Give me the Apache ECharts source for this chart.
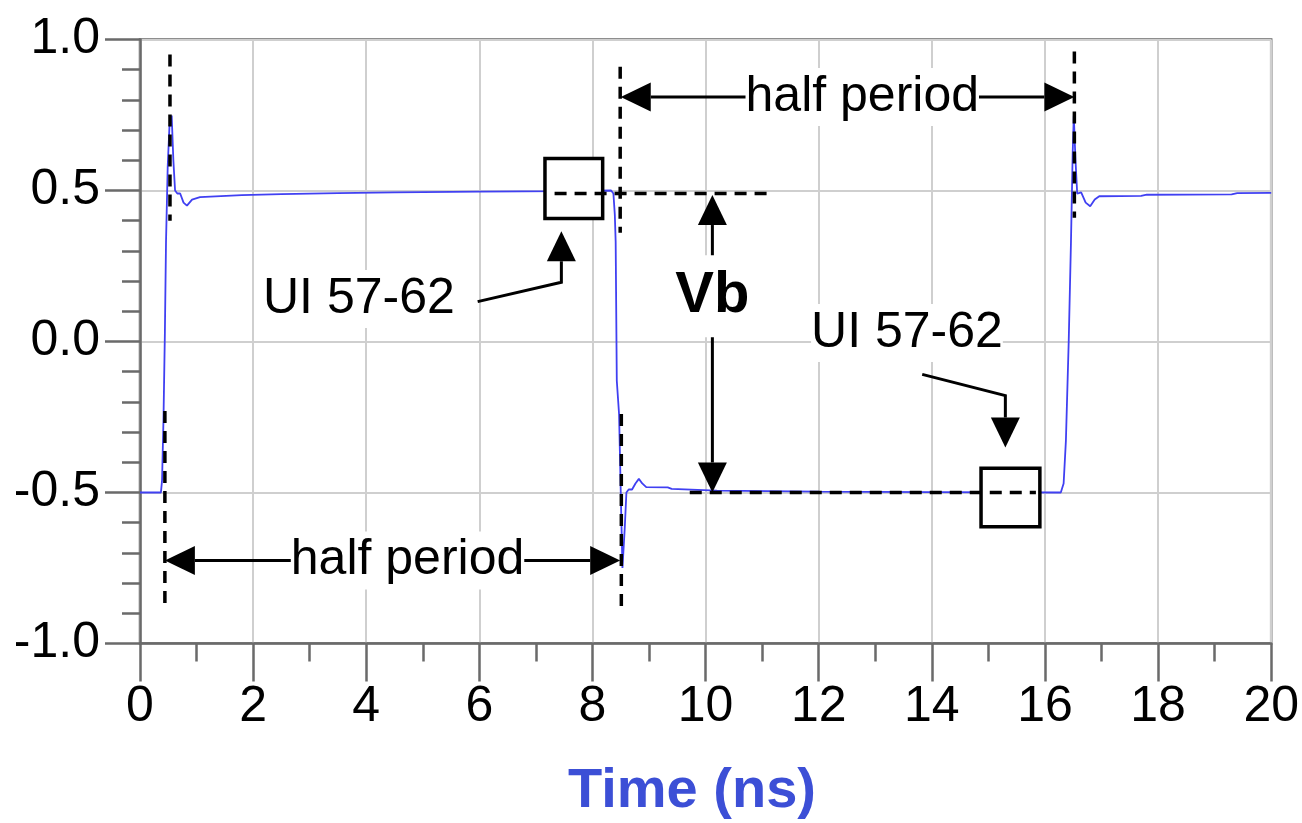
<!DOCTYPE html>
<html>
<head>
<meta charset="utf-8">
<script src="https://cdn.jsdelivr.net/npm/echarts@6/dist/echarts.min.js"></script>
<style>
  html, body { margin: 0; padding: 0; background: #fff; }
  #chart { width: 1302px; height: 823px; }
</style>
</head>
<body>
<div id="chart"></div>
<script>
// waveform: time (ns) / voltage (V)
const waveT = [0, 0.37, 0.39, 0.415, 0.44, 0.46, 0.49, 0.52, 0.56, 0.59, 0.62, 0.66, 0.71, 0.77, 0.83, 0.92, 1.06, 1.8, 2.5, 3.5, 4.5, 6, 7.5,
  8.33, 8.37, 8.395, 8.41, 8.43, 8.47, 8.50, 8.53, 8.57, 8.60, 8.64, 8.70, 8.76, 8.82, 8.88, 8.95, 9.33, 9.4, 10.2, 12, 14,
  16.28, 16.33, 16.37, 16.42, 16.46, 16.49, 16.51, 16.54, 16.57, 16.64, 16.72, 16.80, 16.88, 16.96, 17.7, 17.8, 19.3, 19.4, 20];
const waveV = [-0.5, -0.5, -0.46, -0.26, 0.03, 0.33, 0.58, 0.71, 0.748, 0.60, 0.50, 0.49, 0.49, 0.46, 0.45, 0.47, 0.478, 0.485, 0.488, 0.491, 0.494, 0.496, 0.498,
  0.5, 0.49, 0.42, 0.33, -0.13, -0.24, -0.5, -0.75, -0.62, -0.5, -0.49, -0.49, -0.47, -0.455, -0.47, -0.482, -0.483, -0.488, -0.494, -0.497, -0.499,
  -0.5, -0.47, -0.33, 0.0, 0.33, 0.62, 0.748, 0.60, 0.49, 0.494, 0.46, 0.448, 0.47, 0.481, 0.482, 0.486, 0.487, 0.491, 0.492];

// dashed guide lines [x1, y1, x2, y2] in data units
const dashLines = [
  [0.53, 0.95, 0.53, 0.40],
  [0.44, -0.23, 0.44, -0.87],
  [8.49, 0.91, 8.49, 0.36],
  [8.51, -0.24, 8.51, -0.88],
  [16.52, 0.96, 16.52, 0.41],
  [7.33, 0.49, 11.1, 0.49],
  [9.72, -0.5, 15.84, -0.5]
];

// marker boxes [x1, x2, yTop, yBottom]
const boxes = [
  [7.16, 8.18, 0.606, 0.407],
  [14.87, 15.91, -0.42, -0.613]
];

// arrows: list of points, head at the last point
const arrowPaths = [
  [[12.77, 0.81], [8.5, 0.81]],
  [[12.77, 0.81], [16.52, 0.81]],
  [[4.73, -0.725], [0.44, -0.725]],
  [[4.73, -0.725], [8.49, -0.725]],
  [[10.12, 0.15], [10.12, 0.485]],
  [[10.12, 0.15], [10.12, -0.5]],
  [[5.97, 0.132], [7.45, 0.196], [7.45, 0.365]],
  [[13.83, -0.109], [15.30, -0.179], [15.30, -0.351]]
];

// annotation texts
const noteText = ['half period', 'half period', 'Vb', 'UI 57-62', 'UI 57-62'];
const noteX = [12.77, 4.73, 10.12, 3.87, 13.56];
const noteY = [0.81, -0.725, 0.15, 0.141, 0.028];

const FONT = '"Liberation Sans", Arial, Helvetica, sans-serif';
const axisGray = '#6a6a6a';

const chart = echarts.init(document.getElementById('chart'));

const wave = waveT.map((t, i) => [t, waveV[i]]);

function renderDash(params, api) {
  const d = dashLines[params.dataIndex];
  const a = api.coord([d[0], d[1]]);
  const b = api.coord([d[2], d[3]]);
  return {
    type: 'line',
    shape: { x1: a[0], y1: a[1], x2: b[0], y2: b[1] },
    style: { stroke: '#000', lineWidth: 3.5, lineDash: [12, 8], fill: 'none' }
  };
}

function renderBox(params, api) {
  const b = boxes[params.dataIndex];
  const p1 = api.coord([b[0], b[2]]);
  const p2 = api.coord([b[1], b[3]]);
  return {
    type: 'rect',
    shape: { x: p1[0], y: p1[1], width: p2[0] - p1[0], height: p2[1] - p1[1] },
    style: { fill: '#fff', stroke: '#000', lineWidth: 3.5 }
  };
}

function renderArrow(params, api) {
  const pts = arrowPaths[params.dataIndex].map(p => api.coord(p));
  const n = pts.length;
  const tip = pts[n - 1], prev = pts[n - 2];
  const dx = tip[0] - prev[0], dy = tip[1] - prev[1];
  const len = Math.hypot(dx, dy);
  const ux = dx / len, uy = dy / len;
  const headLen = 30, headHalf = 14.5;
  const bx = tip[0] - ux * headLen, by = tip[1] - uy * headLen;
  const body = pts.slice(0, n - 1).concat([[bx, by]]);
  return {
    type: 'group',
    children: [
      { type: 'polyline', shape: { points: body }, style: { stroke: '#000', lineWidth: 3, fill: 'none' } },
      {
        type: 'polygon',
        shape: { points: [tip, [bx - uy * headHalf, by + ux * headHalf], [bx + uy * headHalf, by - ux * headHalf]] },
        style: { fill: '#000' }
      }
    ]
  };
}

function renderNote(params, api) {
  const i = params.dataIndex;
  const p = api.coord([noteX[i], noteY[i]]);
  const isVb = noteText[i] === 'Vb';
  return {
    type: 'text',
    x: p[0],
    y: p[1],
    style: {
      text: noteText[i],
      fontFamily: FONT,
      fontSize: isVb ? 58 : 50,
      fontWeight: isVb ? 'bold' : 'normal',
      fill: '#000',
      align: 'center',
      verticalAlign: 'middle',
      textAlign: 'center',
      textVerticalAlign: 'middle',
      backgroundColor: '#fff',
      padding: isVb ? [12, 4] : [4, 0]
    }
  };
}

const option = {
  animation: false,
  backgroundColor: '#fff',
  grid: {
    left: 140, right: 30, top: 39.5, bottom: 179.5,
    show: true, borderColor: axisGray, borderWidth: 2.5, backgroundColor: 'transparent'
  },
  xAxis: {
    type: 'value', min: 0, max: 20, interval: 2,
    axisLine: { show: true, onZero: false, lineStyle: { color: axisGray, width: 2.5 } },
    axisTick: { show: true, length: 38, lineStyle: { color: axisGray, width: 2.5 } },
    minorTick: { show: true, splitNumber: 2, length: 18, lineStyle: { color: axisGray, width: 2.5 } },
    splitLine: { show: true, lineStyle: { color: '#cfcfcf', width: 2 } },
    axisLabel: { fontSize: 50, fontFamily: FONT, color: '#000', margin: 39 }
  },
  yAxis: {
    type: 'value', min: -1, max: 1, interval: 0.5,
    axisLine: { show: true, onZero: false, lineStyle: { color: axisGray, width: 2.5 } },
    axisTick: { show: true, length: 35, lineStyle: { color: axisGray, width: 2.5 } },
    minorTick: { show: true, splitNumber: 5, length: 18, lineStyle: { color: axisGray, width: 2.5 } },
    splitLine: { show: true, lineStyle: { color: '#cfcfcf', width: 2 } },
    axisLabel: { fontSize: 50, fontFamily: FONT, color: '#000', margin: 40, formatter: v => v.toFixed(1) }
  },
  graphic: [{
    type: 'text', x: 692, y: 792,
    style: {
      text: 'Time (ns)', fontFamily: FONT, fontSize: 56, fontWeight: 'bold', fill: '#3c4fd6',
      align: 'center', verticalAlign: 'middle', textAlign: 'center', textVerticalAlign: 'middle'
    }
  }],
  series: [
    {
      type: 'line', data: wave, showSymbol: false, symbol: 'none', z: 2,
      lineStyle: { color: '#4040f2', width: 1.8 }
    },
    { type: 'custom', renderItem: renderBox, data: boxes.map(b => [b[0], b[2]]), z: 3, silent: true },
    { type: 'custom', renderItem: renderDash, data: dashLines.map(d => [d[0], d[1]]), z: 4, silent: true },
    { type: 'custom', renderItem: renderArrow, data: arrowPaths.map(a => a[0]), z: 5, silent: true },
    { type: 'custom', renderItem: renderNote, data: noteX.map((x, i) => [x, noteY[i]]), z: 6, silent: true }
  ]
};

chart.setOption(option);
</script>
</body>
</html>
